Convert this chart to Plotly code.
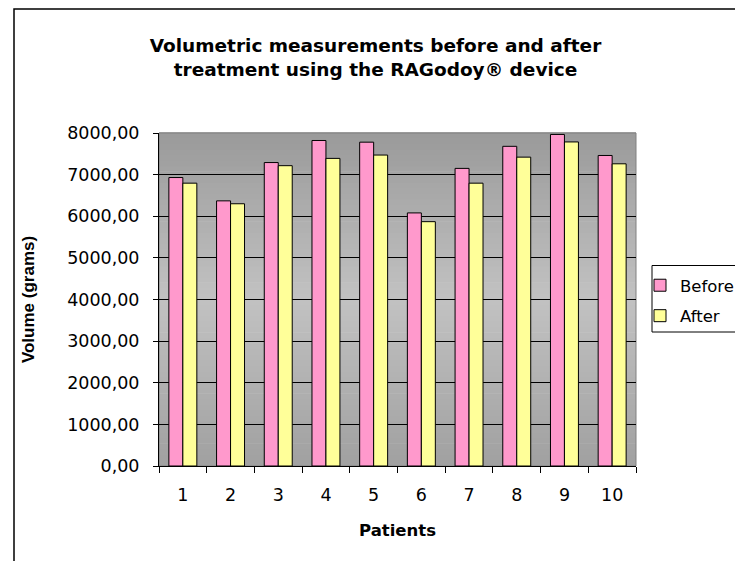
import plotly.graph_objects as go

# ---- data ----
patients = ["1", "2", "3", "4", "5", "6", "7", "8", "9", "10"]
before = [6930, 6370, 7290, 7820, 7780, 6080, 7150, 7680, 7965, 7460]
after = [6795, 6300, 7215, 7390, 7470, 5870, 6795, 7420, 7785, 7260]

W, H = 743, 561
OFF = 8  # page body margin of the html page
PW, PH = 477, 333
ML, MT = 159 - OFF, 133 - OFF
MR, MB = W - ML - PW, H - MT - PH


def px_x(p):
    # page pixel -> paper x
    return (p - OFF - ML) / PW


def px_y(p):
    # page pixel -> paper y
    return (MT + PH - (p - OFF)) / PH


fig = go.Figure()
fig.add_trace(go.Bar(
    x=patients, y=before, name="Before", legendgroup="b",
    marker=dict(color="#FF99CC", line=dict(color="black", width=1)),
))
fig.add_trace(go.Bar(
    x=patients, y=after, name="After", legendgroup="a",
    marker=dict(color="#FFFF99", line=dict(color="black", width=1)),
))

# ---- plot-area gradient background (style only) ----
shapes = []
N = 60
top_c, mid_c, bot_c = 154, 194, 160
for i in range(N):
    f = (i + 0.5) / N  # 0 bottom -> 1 top
    if f < 0.5:
        v = bot_c + (mid_c - bot_c) * (f / 0.5)
    else:
        v = mid_c + (top_c - mid_c) * ((f - 0.5) / 0.5)
    v = int(round(v))
    shapes.append(dict(type="rect", xref="paper", yref="paper",
                       x0=0, x1=1, y0=i / N, y1=(i + 1) / N + 0.002,
                       fillcolor=f"rgb({v},{v},{v})", line=dict(width=0),
                       layer="below"))
# plot-area border (gray)
shapes.append(dict(type="rect", xref="paper", yref="paper", x0=0, x1=1, y0=0, y1=1,
                   line=dict(color="#808080", width=1), fillcolor="rgba(0,0,0,0)",
                   layer="below"))
# chart outer border
shapes.append(dict(type="rect", xref="paper", yref="paper",
                   x0=px_x(14), x1=px_x(770), y0=px_y(590), y1=px_y(9),
                   line=dict(color="black", width=1.5), fillcolor="rgba(0,0,0,0)",
                   layer="below"))
# legend box
shapes.append(dict(type="rect", xref="paper", yref="paper",
                   x0=px_x(652), x1=px_x(770), y0=px_y(332), y1=px_y(265.5),
                   line=dict(color="black", width=1), fillcolor="white",
                   layer="below"))

fig.update_layout(
    width=W, height=H,
    margin=dict(l=ML, r=MR, t=MT, b=MB, autoexpand=False),
    paper_bgcolor="white", plot_bgcolor="rgba(0,0,0,0)",
    separators=",.",
    font=dict(family="DejaVu Sans", color="black", size=17),
    title=dict(
        text="Volumetric measurements before and after<br>treatment using the RAGodoy® device",
        font=dict(family="DejaVu Sans", size=18.5, color="black", weight="bold"),
        x=px_x(375.5), xref="paper", xanchor="center",
        y=1 - (51.5 - OFF) / H, yref="container", yanchor="middle",
    ),
    barmode="group", bargap=0.414, bargroupgap=0,
    showlegend=True,
    legend=dict(
        x=px_x(640), xanchor="left", y=px_y(268), yanchor="top",
        bgcolor="rgba(0,0,0,0)", borderwidth=0,
        font=dict(family="DejaVu Sans", size=16.5, color="black"),
        traceorder="grouped", tracegroupgap=6,
    ),
    xaxis=dict(
        type="category", showgrid=False, showline=True, linecolor="black", linewidth=1,
        ticks="outside", ticklen=6, tickcolor="black", tickson="boundaries",
        tickfont=dict(family="DejaVu Sans", size=17.5, color="black"),
        ticklabelstandoff=13,
        title=dict(text="Patients", standoff=20,
                   font=dict(family="DejaVu Sans", size=16.5, color="black", weight="bold")),
        zeroline=False,
    ),
    yaxis=dict(
        range=[0, 8000], dtick=1000, tickformat=".2f",
        showgrid=True, gridcolor="black", gridwidth=1,
        showline=True, linecolor="black", linewidth=1,
        ticks="outside", ticklen=5, tickcolor="black",
        tickfont=dict(family="DejaVu Sans", size=17.5, color="black"),
        ticklabelstandoff=10,
        title=dict(text="Volume (grams)", standoff=28,
                   font=dict(family="Liberation Sans", size=17, color="black", weight="bold")),
        zeroline=False,
    ),
    shapes=shapes,
)

fig.write_html("out.html")
